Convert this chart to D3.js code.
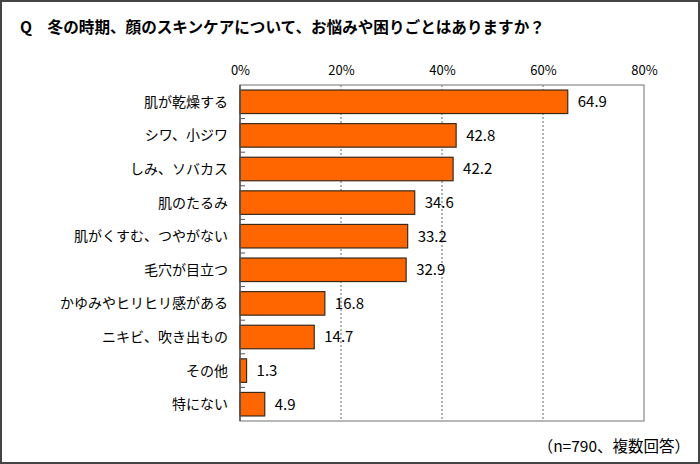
<!DOCTYPE html>
<html>
<head>
<meta charset="utf-8">
<script src="https://cdn.jsdelivr.net/npm/d3@7"></script>
<style>
  html, body { margin: 0; padding: 0; background: #fff; }
  svg text { font-family: "Noto Sans CJK JP", "Noto Sans", sans-serif; fill: #000; }
</style>
</head>
<body>
<div id="chart"></div>
<script>
// data
const categories = ["肌が乾燥する", "シワ、小ジワ", "しみ、ソバカス", "肌のたるみ", "肌がくすむ、つやがない",
  "毛穴が目立つ", "かゆみやヒリヒリ感がある", "ニキビ、吹き出もの", "その他", "特にない"]
const values = [64.9, 42.8, 42.2, 34.6, 33.2, 32.9, 16.8, 14.7, 1.3, 4.9]
const xTicks = [0, 20, 40, 60, 80]
const title = "Q\u3000冬の時期、顔のスキンケアについて、お悩みや困りごとはありますか？"
const note = "（n=790、複数回答）"

const dimensions = {
  width: 700,
  height: 464,
  margin: { top: 85, right: 56, bottom: 43, left: 240 },
}
dimensions.boundedWidth = dimensions.width - dimensions.margin.left - dimensions.margin.right
dimensions.boundedHeight = dimensions.height - dimensions.margin.top - dimensions.margin.bottom

const wrapper = d3.select("#chart").append("svg")
  .attr("width", dimensions.width)
  .attr("height", dimensions.height)

// outer frame
wrapper.append("rect")
  .attr("x", 1).attr("y", 1)
  .attr("width", dimensions.width - 2).attr("height", dimensions.height - 2)
  .attr("fill", "#fff").attr("stroke", "#444").attr("stroke-width", 2)

wrapper.append("text")
  .attr("x", 20).attr("y", 33)
  .style("font-size", "15.6px").style("font-weight", "bold")
  .text(title)

const bounds = wrapper.append("g")
  .attr("transform", `translate(${dimensions.margin.left},${dimensions.margin.top})`)

// scales
const xScale = d3.scaleLinear()
  .domain([0, 80])
  .range([0, dimensions.boundedWidth])

const yScale = d3.scaleBand()
  .domain(categories)
  .range([0, dimensions.boundedHeight])
  .paddingInner(0.3)
  .paddingOuter(0.15)

// gridlines
bounds.append("g")
  .selectAll("line")
  .data(xTicks.slice(1, -1))
  .join("line")
    .attr("x1", d => xScale(d)).attr("x2", d => xScale(d))
    .attr("y1", 0).attr("y2", dimensions.boundedHeight)
    .attr("stroke", "#666").attr("stroke-width", 1)
    .attr("stroke-dasharray", "2,2")

// plot frame
bounds.append("rect")
  .attr("width", dimensions.boundedWidth).attr("height", dimensions.boundedHeight)
  .attr("fill", "none").attr("stroke", "#888").attr("stroke-width", 1.2)

// bars
bounds.append("g")
  .selectAll("rect")
  .data(values)
  .join("rect")
    .attr("x", 0)
    .attr("y", (d, i) => yScale(categories[i]))
    .attr("width", d => xScale(d))
    .attr("height", yScale.bandwidth())
    .attr("fill", "#ff6600")
    .attr("stroke", "#3a2a1a").attr("stroke-width", 1.2)

// value labels
bounds.append("g")
  .selectAll("text")
  .data(values)
  .join("text")
    .attr("x", d => xScale(d) + 10)
    .attr("y", (d, i) => yScale(categories[i]) + yScale.bandwidth() / 2)
    .attr("dy", "0.36em")
    .style("font-size", "15px")
    .text(d => d.toFixed(1))

// y axis: ticks at band boundaries pointing inward
const step = yScale.step()
const yAxis = bounds.append("g")
yAxis.append("line")
  .attr("x1", 0).attr("x2", 0).attr("y1", 0).attr("y2", dimensions.boundedHeight)
  .attr("stroke", "#555").attr("stroke-width", 1.5)
yAxis.selectAll(".tk")
  .data(categories.slice(1))
  .join("line")
    .attr("class", "tk")
    .attr("x1", 0).attr("x2", 5)
    .attr("y1", d => yScale(d) - (step - yScale.bandwidth()) / 2)
    .attr("y2", d => yScale(d) - (step - yScale.bandwidth()) / 2)
    .attr("stroke", "#555")
yAxis.selectAll("text")
  .data(categories)
  .join("text")
    .attr("x", -12)
    .attr("y", d => yScale(d) + yScale.bandwidth() / 2)
    .attr("dy", "0.36em")
    .attr("text-anchor", "end")
    .style("font-size", "14px")
    .text(d => d)

// x axis on top
const xAxisGenerator = d3.axisTop(xScale)
  .tickValues(xTicks)
  .tickSize(0)
  .tickPadding(10)
  .tickFormat(d => d + "%")
const xAxis = bounds.append("g").call(xAxisGenerator)
xAxis.select(".domain").remove()
xAxis.selectAll("text")
  .style("font-size", "13px")
  .style("font-family", "\"Noto Sans CJK JP\", sans-serif")
  .attr("fill", "#333")

wrapper.append("text")
  .attr("x", 690).attr("y", 452)
  .attr("text-anchor", "end")
  .style("font-size", "15.5px")
  .text(note)
</script>
</body>
</html>
